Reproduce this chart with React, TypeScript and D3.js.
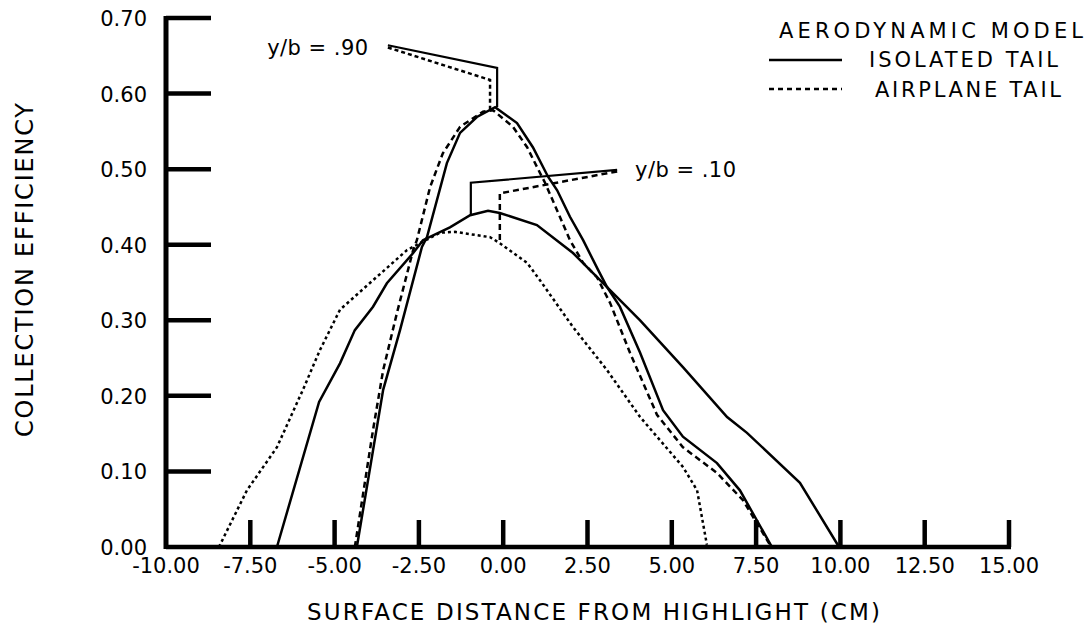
import * as d3 from 'd3';

// surface distance (cm), collection efficiency
const isolated90: [number, number][] = [
  [-4.34, 0], [-3.56, 0.208], [-3.06, 0.287], [-2.41, 0.397], [-2.26, 0.41],
  [-1.67, 0.508], [-1.28, 0.548], [-0.78, 0.569], [-0.24, 0.582], [0.41, 0.561],
  [0.88, 0.529], [1.33, 0.49], [1.6, 0.472], [1.98, 0.437], [2.37, 0.406],
  [2.81, 0.367], [3.08, 0.344], [3.46, 0.318], [4.06, 0.257], [4.74, 0.181],
  [5.33, 0.146], [6.34, 0.111], [7.02, 0.075], [7.97, 0],
];

const airplane90: [number, number][] = [
  [-4.4, 0], [-3.86, 0.155], [-3.56, 0.234], [-3.15, 0.31], [-2.67, 0.393],
  [-2.56, 0.406], [-2.17, 0.476], [-1.79, 0.521], [-1.28, 0.556], [-0.6, 0.576],
  [-0.3, 0.578], [0.29, 0.556], [0.71, 0.529], [1.0, 0.503], [1.24, 0.482],
  [1.68, 0.437], [1.98, 0.406], [2.37, 0.376], [2.78, 0.357], [3.17, 0.323],
  [3.76, 0.257], [4.56, 0.175], [5.33, 0.132], [6.34, 0.098], [7.11, 0.062],
  [7.91, 0.003],
];

const isolated10: [number, number][] = [
  [-6.71, 0], [-5.46, 0.192], [-4.84, 0.243], [-4.4, 0.287], [-3.86, 0.318],
  [-3.45, 0.349], [-2.67, 0.389], [-2.38, 0.406], [-1.58, 0.423], [-0.98, 0.439],
  [-0.45, 0.445], [-0.1, 0.442], [1.0, 0.426], [2.07, 0.389], [3.08, 0.344],
  [4.06, 0.3], [5.33, 0.238], [6.64, 0.172], [7.23, 0.151], [8.8, 0.085],
  [9.96, 0],
];

const airplane10: [number, number][] = [
  [-8.43, 0], [-7.6, 0.075], [-6.71, 0.132], [-5.94, 0.208], [-5.43, 0.261],
  [-4.84, 0.314], [-3.86, 0.353], [-2.85, 0.393], [-1.87, 0.416], [-1.43, 0.417],
  [-0.39, 0.41], [-0.1, 0.402], [0.71, 0.376], [1.09, 0.353], [2.07, 0.291],
  [3.08, 0.234], [4.06, 0.172], [5.33, 0.106], [5.75, 0.075], [6.04, 0.003],
];

// leader lines for the y/b labels
const leader90Solid: [number, number][] = [[-3.42, 0.664], [-0.18, 0.634], [-0.18, 0.582]];
const leader90Dash: [number, number][] = [[-3.42, 0.661], [-0.39, 0.618], [-0.39, 0.578]];
const leader10Solid: [number, number][] = [[3.38, 0.499], [-0.96, 0.482], [-0.96, 0.439]];
const leader10Dash: [number, number][] = [[3.38, 0.497], [-0.1, 0.468], [-0.1, 0.402]];

const xTicks = [-10, -7.5, -5, -2.5, 0, 2.5, 5, 7.5, 10, 12.5, 15];
const yTicks = [0, 0.1, 0.2, 0.3, 0.4, 0.5, 0.6, 0.7];

const font = '"DejaVu Sans", Verdana, sans-serif';

export default function App() {
  const x = d3.scaleLinear().domain([-10, 15]).range([166, 1009]);
  const y = d3.scaleLinear().domain([0, 0.7]).range([547, 18]);
  const line = d3.line<[number, number]>().x((d) => x(d[0])).y((d) => y(d[1]));
  const fmt = (v: number) => d3.format('.2f')(v).replace('\u2212', '-');

  const curves = [
    { data: isolated10, dash: undefined },
    { data: airplane10, dash: '3,3' },
    { data: isolated90, dash: undefined },
    { data: airplane90, dash: '6,4' },
  ];

  return (
    <div style={{ position: 'absolute', left: 0, top: 0 }}>
      <svg width={1092} height={630} style={{ display: 'block', background: '#fff' }} fontFamily={font}>
        {/* axes */}
        <line x1={x(-10)} x2={x(-10)} y1={y(0.7) - 2} y2={y(0) + 2} stroke="#000" strokeWidth={5} />
        <line x1={x(-10)} x2={x(15) + 2} y1={y(0)} y2={y(0)} stroke="#000" strokeWidth={4.5} />
        {yTicks.filter((t) => t > 0).map((t) => (
          <line key={'yt' + t} x1={x(-10)} x2={x(-10) + 45} y1={y(t)} y2={y(t)} stroke="#000" strokeWidth={4.5} />
        ))}
        {xTicks.filter((t) => t > -10).map((t) => (
          <line key={'xt' + t} x1={x(t)} x2={x(t)} y1={y(0)} y2={y(0) - 27} stroke="#000" strokeWidth={4.5} />
        ))}
        {yTicks.map((t) => (
          <text key={'yl' + t} x={147} y={y(t) + 8} textAnchor="end" fontSize={21}>
            {fmt(t)}
          </text>
        ))}
        {xTicks.map((t) => (
          <text key={'xl' + t} x={x(t)} y={573} textAnchor="middle" fontSize={21}>
            {fmt(t)}
          </text>
        ))}
        <text x={307} y={620} fontSize={23} textLength={573} lengthAdjust="spacing">
          SURFACE DISTANCE FROM HIGHLIGHT (CM)
        </text>
        <text
          transform="translate(33,437) rotate(-90)"
          fontSize={24}
          textLength={334}
          lengthAdjust="spacing"
        >
          COLLECTION EFFICIENCY
        </text>

        {/* curves */}
        {curves.map((c, i) => (
          <path
            key={'c' + i}
            d={line(c.data) || ''}
            fill="none"
            stroke="#000"
            strokeWidth={2.5}
            strokeDasharray={c.dash}
          />
        ))}

        {/* annotations */}
        <path d={line(leader90Solid) || ''} fill="none" stroke="#000" strokeWidth={2.2} />
        <path d={line(leader90Dash) || ''} fill="none" stroke="#000" strokeWidth={2.5} strokeDasharray="4,3" />
        <path d={line(leader10Solid) || ''} fill="none" stroke="#000" strokeWidth={2.2} />
        <path d={line(leader10Dash) || ''} fill="none" stroke="#000" strokeWidth={2.5} strokeDasharray="6,4" />
        <text x={x(-7.0)} y={y(0.651)} fontSize={21} textLength={101} lengthAdjust="spacing">
          y/b = .90
        </text>
        <text x={x(3.91)} y={y(0.49)} fontSize={21} textLength={101} lengthAdjust="spacing">
          y/b = .10
        </text>

        {/* legend */}
        <text x={779} y={38} fontSize={21} textLength={304} lengthAdjust="spacing">
          AERODYNAMIC MODEL
        </text>
        <line x1={769} x2={842} y1={60} y2={60} stroke="#000" strokeWidth={2.5} />
        <text x={869} y={67} fontSize={21} textLength={189} lengthAdjust="spacing">
          ISOLATED TAIL
        </text>
        <line x1={769} x2={842} y1={89} y2={89} stroke="#000" strokeWidth={2.5} strokeDasharray="5,4" />
        <text x={875} y={97} fontSize={21} textLength={186} lengthAdjust="spacing">
          AIRPLANE TAIL
        </text>
      </svg>
    </div>
  );
}
